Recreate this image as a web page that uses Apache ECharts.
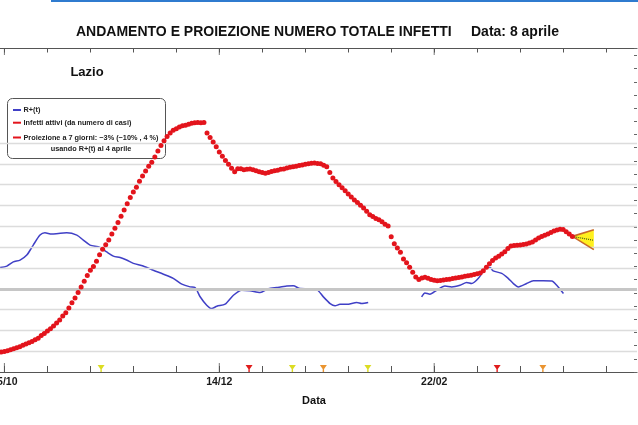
<!DOCTYPE html>
<html><head><meta charset="utf-8">
<script src="https://cdn.jsdelivr.net/npm/echarts@6/dist/echarts.min.js"></script>
<style>html,body{margin:0;padding:0;background:#fff}#c{width:638px;height:425px}</style>
</head><body><div id="c"></div>
<script>
// day 0 = 05/10/2020
const infettiStartDay = -1;
// active infected (thousands), one value per day from day -1 to day 185 (8 aprile)
const infetti = [
 7.6,7.8,8.1,8.4,8.8,9.2,9.6,10.1,10.6,11.1,
 11.6,12.2,12.8,13.8,14.6,15.5,16.4,17.4,18.6,19.7,
 21.2,22.5,24.3,26.2,28.0,30.1,32.2,34.4,36.6,38.6,
 40.0,42.0,44.4,46.5,48.2,50.0,52.3,54.5,56.7,59.0,
 61.4,63.8,66.1,68.2,70.0,72.3,74.3,76.2,78.0,79.5,
 81.5,83.8,85.8,87.6,89.3,90.6,91.6,92.2,92.9,93.3,
 93.5,93.9,94.3,94.5,94.6,94.5,94.6,90.6,88.9,87.2,
 85.4,83.4,81.8,80.2,78.7,77.2,75.9,77.0,77.0,76.7,
 76.8,76.9,76.7,76.3,75.9,75.6,75.3,75.6,76.0,76.3,
 76.5,76.8,76.9,77.3,77.6,77.8,78.0,78.3,78.5,78.7,
 78.9,79.1,79.2,79.0,78.9,78.4,77.8,75.6,73.5,72.2,
 71.0,69.8,68.7,67.5,66.3,65.2,64.2,63.2,62.2,60.9,
 59.6,58.9,58.2,57.7,56.9,56.0,55.3,51.3,48.6,47.0,
 45.4,42.8,41.4,39.7,37.8,36.0,35.1,35.6,35.9,35.5,
 35.1,34.8,34.6,34.7,34.9,35.1,35.2,35.4,35.6,35.8,
 36.0,36.3,36.5,36.7,37.0,37.2,37.5,38.4,39.7,41.0,
 42.3,43.2,43.9,44.7,45.6,46.8,47.8,47.9,48.0,48.1,
 48.3,48.5,48.9,49.3,50.0,50.8,51.4,51.8,52.3,52.9,
 53.4,53.8,54.1,54.0,53.2,52.3,51.4
];
// R+(t): [day, R]
const rtDays = [-1.4,0.8,2.9,5.1,7.3,9.4,11.6,13.2,15.4,17.6,20.3,23.6,25.7,27.9,31.1,33.3,35.5,37.7,39.8,42.0,45.2,48.5,51.8,55.0,57.8,60.5,62.1,63.7,65.9,67.5,69.2,71.9,74.6,77.3,80.0,83.3,86.0,88.7,92.0,94.1,96.3,99.0,101.7,103.9,106.1,107.7,109.3,111.5,114.8,116.4,118.5,
  127,
  135.9,137.0,138.6,140.8,143.5,145.7,148.4,150.6,152.2,154.4,156.6,158.2,159.2,162.0,164.1,165.8,167.4,170.1,172.3,175.5,178.3,179.9,182.1];
const rtValues = [1.102,1.109,1.129,1.138,1.162,1.210,1.258,1.269,1.263,1.266,1.269,1.258,1.234,1.210,1.199,1.177,1.157,1.150,1.138,1.122,1.109,1.089,1.070,1.050,1.022,1.009,1.006,0.963,0.921,0.905,0.916,0.926,0.969,0.993,0.990,0.982,1.000,1.006,1.013,1.014,1.001,1.000,0.997,0.961,0.929,0.918,0.925,0.925,0.934,0.929,0.934,
  null,
  0.961,0.980,0.974,0.993,1.013,1.009,1.017,1.030,1.025,1.050,1.098,1.102,1.086,1.074,1.050,1.025,1.009,1.025,1.038,1.038,1.037,1.017,0.977];
// 7-day projection (thousands)
const projDays = [185, 192];
const projUpper = [51.4, 53.9];
const projLower = [51.4, 46.4];
const projCenter = [51.4, 49.9];
// axis ticks
const xTickDays = [0,14,28,42,56,70,84,98,112,126,140,154,168,182,196];
const xLabelDays = [0,70,140];
const xLabels = ['05/10','14/12','22/02'];
const rGridValues = [0.7,0.8,0.9,1.1,1.2,1.3,1.4,1.5,1.6,1.7];
const rRef = 1.0;
// zone change markers
const zoneDays = [31.5,79.7,93.8,103.9,118.4,160.5,175.4];
const zoneKinds = ['giallo','rosso','giallo','arancione','giallo','rosso','arancione'];

const zoneColor = {giallo:'#dcdc22', rosso:'#e01c1c', arancione:'#ea9430'};
const F = 'Liberation Sans, Arial, Helvetica, sans-serif';
const xMin = -1.433, xMax = 206.06, rMin = 0.6, rMax = 2.157;

const chart = echarts.init(document.getElementById('c'), null, {renderer:'canvas'});

const option = {
  animation:false,
  grid:{left:0, right:1, top:48, bottom:53, containLabel:false, outerBoundsMode:'none'},
  xAxis:[
    {type:'value', position:'bottom', min:xMin, max:xMax,
     axisLine:{show:true, onZero:false, lineStyle:{color:'#555', width:1.2}}, splitLine:{show:false},
     axisTick:{show:true, inside:true, length:6, customValues:xTickDays, lineStyle:{color:'#555', width:1}},
     axisLabel:{show:true, customValues:xLabelDays, margin:5, color:'#1a1a1a',
        fontFamily:F, fontWeight:'bold', fontSize:10.5,
        formatter:v=>xLabels[xLabelDays.indexOf(Math.round(v))] || ''}},
    {type:'value', position:'top', min:xMin, max:xMax,
     axisLine:{show:true, onZero:false, lineStyle:{color:'#555', width:1.2}}, splitLine:{show:false},
     axisTick:{show:true, inside:true, length:4.5, customValues:xTickDays, lineStyle:{color:'#555', width:1}},
     axisLabel:{show:false}}
  ],
  yAxis:[
    {type:'value', min:rMin, max:rMax, position:'left', show:false,
     axisLine:{show:false}, axisTick:{show:false}, axisLabel:{show:false}, splitLine:{show:false}},
    {type:'value', min:0, max:122.8, interval:5, position:'right',
     axisLine:{show:false, onZero:false}, axisTick:{show:true, inside:true, length:3, lineStyle:{color:'#666'}},
     axisLabel:{show:false}, splitLine:{show:false}}
  ],
  series:[
    {type:'line', xAxisIndex:0, yAxisIndex:0, data:[], z:1, silent:true,
     markLine:{silent:true, symbol:'none', label:{show:false}, animation:false,
       data: rGridValues.map(v=>({yAxis:v, lineStyle:{color:'#dcdcdc', width:1.3, type:'solid'}}))
         .concat([{yAxis:rRef, lineStyle:{color:'#c6c6c6', width:3, type:'solid'}}])}},
    // longer ticks at labelled dates (bottom and top)
    {type:'scatter', xAxisIndex:0, yAxisIndex:0, z:8, clip:false, silent:true,
     symbol:'rect', symbolSize:[1,9], symbolOffset:[0,-4.5], itemStyle:{color:'#555'},
     data: xLabelDays.map(d=>[d, rMin])},
    {type:'scatter', xAxisIndex:0, yAxisIndex:0, z:8, clip:false, silent:true,
     symbol:'rect', symbolSize:[1,7], symbolOffset:[0,3.5], itemStyle:{color:'#555'},
     data: xLabelDays.map(d=>[d, rMax])},
    {type:'line', name:'R+(t)', xAxisIndex:0, yAxisIndex:0, z:3, showSymbol:false, smooth:0.25,
     connectNulls:false,
     data: rtDays.map((d,i)=>[d, rtValues[i]===null?'-':rtValues[i]]),
     lineStyle:{color:'#4040c6', width:1.5}},
    {type:'custom', xAxisIndex:0, yAxisIndex:1, z:4, data:[[0]],
     renderItem:(params, api)=>{
       const a = api.coord([projDays[0], projUpper[0]]);
       const b = api.coord([projDays[1], projUpper[1]]);
       const c = api.coord([projDays[1], projLower[1]]);
       return {type:'polygon', shape:{points:[a,b,c]}, style:{fill:'#fff01e'}};
     }},
    {type:'line', xAxisIndex:0, yAxisIndex:1, z:5, showSymbol:false,
     data: projDays.map((d,i)=>[d, projUpper[i]]), lineStyle:{color:'#c8692a', width:1.6}},
    {type:'line', xAxisIndex:0, yAxisIndex:1, z:5, showSymbol:false,
     data: projDays.map((d,i)=>[d, projLower[i]]), lineStyle:{color:'#c8692a', width:1.6}},
    {type:'line', xAxisIndex:0, yAxisIndex:1, z:5, showSymbol:false,
     data: projDays.map((d,i)=>[d, projCenter[i]]), lineStyle:{color:'#3e5a18', width:1.2, type:[1,1]}},
    {type:'scatter', name:'Infetti attivi', xAxisIndex:0, yAxisIndex:1, z:6,
     symbol:'circle', symbolSize:5,
     data: infetti.map((v,i)=>[infettiStartDay+i, v]),
     itemStyle:{color:'#e3141c', opacity:1}},
    {type:'scatter', xAxisIndex:0, yAxisIndex:0, z:7, clip:false, silent:true,
     symbol:'path://M0,0 L10,0 L5,7 Z M4,6 L6,6 L6,10 L4,10 Z', symbolSize:[7,7], symbolOffset:[0,-3.5],
     data: zoneDays.map((d,i)=>({value:[d, rMin], itemStyle:{color:zoneColor[zoneKinds[i]], opacity:1}}))}
  ],
  graphic:[
    {type:'rect', left:51, top:0, shape:{width:587, height:2}, style:{fill:'#2f7bcf'}},
    {type:'text', x:76, y:32, style:{text:'ANDAMENTO E PROIEZIONE NUMERO TOTALE INFETTI', font:'bold 14px '+F, fill:'#111', textVerticalAlign:'middle'}},
    {type:'text', x:471, y:32, style:{text:'Data: 8 aprile', font:'bold 14px '+F, fill:'#111', textVerticalAlign:'middle'}},
    {type:'text', x:87, y:72, style:{text:'Lazio', font:'bold 13px '+F, fill:'#111', textAlign:'center', textVerticalAlign:'middle'}},
    {type:'rect', shape:{x:7.5, y:98.5, width:158, height:60, r:5}, style:{fill:'none', stroke:'#555', lineWidth:1}},
    {type:'line', shape:{x1:13, y1:110, x2:21, y2:110}, style:{stroke:'#4040c6', lineWidth:2}},
    {type:'text', x:23.5, y:110, style:{text:'R+(t)', font:'bold 7.3px '+F, fill:'#222', textVerticalAlign:'middle'}},
    {type:'line', shape:{x1:13, y1:122.7, x2:21, y2:122.7}, style:{stroke:'#e3141c', lineWidth:2}},
    {type:'text', x:23.5, y:122.7, style:{text:'Infetti attivi (da numero di casi)', font:'bold 7.3px '+F, fill:'#222', textVerticalAlign:'middle'}},
    {type:'line', shape:{x1:13, y1:137.5, x2:21, y2:137.5}, style:{stroke:'#e3141c', lineWidth:2}},
    {type:'text', x:23.5, y:137.5, style:{text:'Proiezione a 7 giorni: \u22123% (\u221210% , 4 %)', font:'bold 7.3px '+F, fill:'#222', textVerticalAlign:'middle'}},
    {type:'text', x:91, y:148.5, style:{text:'usando R+(t) al 4 aprile', font:'bold 7.3px '+F, fill:'#222', textAlign:'center', textVerticalAlign:'middle'}},
    {type:'text', x:314, y:401, style:{text:'Data', font:'bold 11px '+F, fill:'#111', textAlign:'center', textVerticalAlign:'middle'}}
  ]
};
chart.setOption(option);
</script>
</body></html>
